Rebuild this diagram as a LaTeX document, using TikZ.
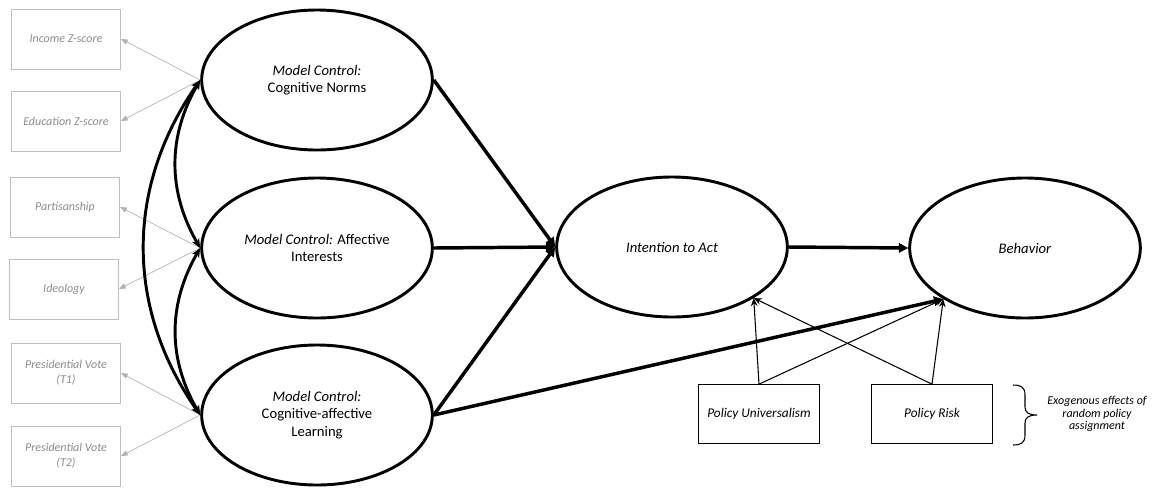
\documentclass[tikz,border=0pt]{standalone}
\usepackage{fontspec}
\setmainfont{Carlito}
\usetikzlibrary{arrows.meta,shapes.geometric}
\definecolor{boxgray}{RGB}{191,191,191}
\definecolor{txtgray}{RGB}{140,140,140}
\definecolor{arrgray}{RGB}{178,178,178}

\begin{document}
\begin{tikzpicture}[x=0.75pt,y=-0.75pt,
  latent/.style={ellipse,draw,line width=2.2pt,minimum width=173pt,minimum height=105pt,inner sep=0pt,align=center,font=\fontsize{11}{13}\selectfont},
  control/.style={rectangle,draw=boxgray,line width=0.6pt,minimum width=82pt,minimum height=45pt,text=txtgray,align=center,font=\fontsize{9}{11.2}\selectfont\itshape},
  policy/.style={rectangle,draw,line width=0.8pt,minimum width=91pt,minimum height=44pt,font=\fontsize{10}{12}\selectfont\itshape},
  effect/.style={line width=2.6pt,-{Triangle[length=7pt,width=7pt]}},
  cov/.style={line width=2.2pt,{Stealth[length=7pt,width=6pt]}-{Stealth[length=7pt,width=6pt]}},
  policyarrow/.style={line width=0.8pt,-{Stealth[length=6pt,width=5pt]}},
  ctrlarrow/.style={draw=arrgray,line width=0.5pt,-{Triangle[length=5pt,width=4pt]}}]
\useasboundingbox (0,0) rectangle (1161,487);

\path (66,39) node[control] (inc) {Income Z-score};
\path (66,121) node[control] (edu) {Education Z-score};
\path (65,207) node[control] (part) {Partisanship};
\path (64,289) node[control] (ideo) {Ideology};
\path (66,373) node[control] (vote1) {Presidential Vote\\(T1)};
\path (66,456) node[control] (vote2) {Presidential Vote\\(T2)};

\path (317,80) node[latent] (cogn) {\textit{Model Control:}\\Cognitive Norms};
\path (317,248) node[latent] (affe) {\textit{Model Control:} Affective\\Interests};
\path (317,415) node[latent] (lear) {\textit{Model Control:}\\Cognitive-affective\\Learning};

\path (672,247) node[latent] (inten) {\textit{Intention to Act}};
\path (1025,248) node[latent] (behav) {\textit{Behavior}};

\path (759,414) node[policy] (univ) {Policy Universalism};
\path (932,414) node[policy] (risk) {Policy Risk};

\draw[ctrlarrow] (cogn.west) -- (inc.east);
\draw[ctrlarrow] (cogn.west) -- (edu.east);
\draw[ctrlarrow] (affe.west) -- (part.east);
\draw[ctrlarrow] (affe.west) -- (ideo.east);
\draw[ctrlarrow] (lear.west) -- (vote1.east);
\draw[ctrlarrow] (lear.west) -- (vote2.east);

\draw[cov] (cogn.west) to[bend right=30] (affe.west);
\draw[cov] (affe.west) to[bend right=30] (lear.west);
\draw[cov] (cogn.west) to[bend right=35] (lear.west);

\draw[effect] (cogn.east) -- (inten.west);
\draw[effect] (affe.east) -- (inten.west);
\draw[effect] (lear.east) -- (inten.west);
\draw[effect] (lear.east) -- (behav.-148);
\draw[effect] (inten.east) -- (behav.west);

\draw[policyarrow] (univ.north) -- (inten.-32);
\draw[policyarrow] (univ.north) -- (behav.-148);
\draw[policyarrow] (risk.north) -- (inten.-32);
\draw[policyarrow] (risk.north) -- (behav.-148);

\draw[line width=0.8pt] (1013,385) .. controls (1021,385) and (1025,387) .. (1025,395) -- (1025,407)
  .. controls (1025,412) and (1028,415) .. (1037,415)
  .. controls (1028,415) and (1025,418) .. (1025,423) -- (1025,435)
  .. controls (1025,443) and (1021,445) .. (1013,445);
\path (1097,414) node[align=center,font=\fontsize{9}{9.5}\selectfont\itshape] (exog) {Exogenous effects of\\random policy\\assignment};
\end{tikzpicture}
\end{document}
